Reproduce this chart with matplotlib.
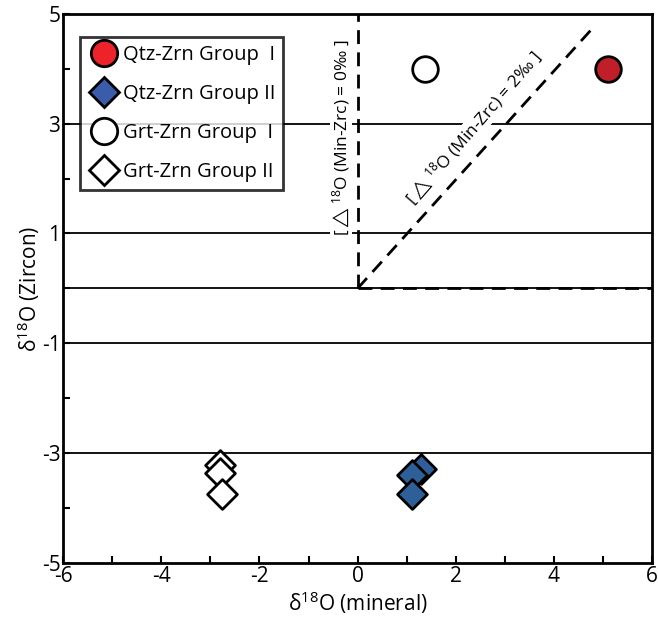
import matplotlib.pyplot as plt
from matplotlib.lines import Line2D

plt.rcParams['font.family'] = ['Open Sans', 'DejaVu Sans']
plt.rcParams['mathtext.fontset'] = 'custom'
plt.rcParams['mathtext.rm'] = 'Open Sans'
plt.rcParams['mathtext.it'] = 'Open Sans'
plt.rcParams['mathtext.fallback'] = 'stixsans'
plt.rcParams['mathtext.default'] = 'regular'
plt.rcParams['axes.unicode_minus'] = False

# data
qtz1_x = [5.1]
qtz1_y = [4.0]
qtz2_x = [1.29, 1.11, 1.11]
qtz2_y = [-3.29, -3.40, -3.74]
grt1_x = [1.38]
grt1_y = [4.0]
grt2_x = [-2.80, -2.80, -2.76]
grt2_y = [-3.21, -3.36, -3.74]

hlines = [3, 1, 0, -1, -3]


def make_plot():
    fig = plt.figure(figsize=(6.58, 6.27), dpi=100)
    ax = fig.add_axes([0.096, 0.102, 0.895, 0.876])

    for h in hlines:
        ax.axhline(h, color='black', lw=1.3, zorder=1)

    # reference lines
    dash = (0, (5, 3))
    ax.plot([0, 0], [0, 5], ls=dash, color='black', lw=2, zorder=2)
    ax.plot([0, 6], [0, 0], ls=dash, color='black', lw=2, zorder=2)
    ax.plot([0, 4.8], [0, 4.75], ls=dash, color='black', lw=2, zorder=2)

    ax.text(-0.33, 2.75, r'[$\triangle^{18}$O (Min-Zrc) = 0‰ ]', rotation=90,
            ha='center', va='center', fontsize=12.5,
            bbox=dict(facecolor='white', edgecolor='none', pad=0), zorder=3)
    ax.text(2.36, 2.92, r'[$\triangle^{18}$O (Min-Zrc) = 2‰ ]', rotation=49,
            ha='center', va='center', fontsize=12.5, rotation_mode='anchor',
            bbox=dict(facecolor='white', edgecolor='none', pad=0), zorder=3)

    ax.scatter(qtz1_x, qtz1_y, s=340, marker='o', facecolor='#c01f2a',
               edgecolor='black', lw=2, zorder=4)
    ax.scatter(grt1_x, grt1_y, s=340, marker='o', facecolor='white',
               edgecolor='black', lw=2, zorder=4)
    ax.scatter(qtz2_x, qtz2_y, s=230, marker='D', facecolor='#2e5f99',
               edgecolor='black', lw=2, zorder=4)
    ax.scatter(grt2_x, grt2_y, s=230, marker='D', facecolor='white',
               edgecolor='black', lw=2, zorder=4)

    handles = [
        Line2D([], [], ls='none', marker='o', ms=19, mfc='#ee2229', mec='black', mew=2),
        Line2D([], [], ls='none', marker='D', ms=15, mfc='#3a5cab', mec='black', mew=2),
        Line2D([], [], ls='none', marker='o', ms=19, mfc='white', mec='black', mew=2),
        Line2D([], [], ls='none', marker='D', ms=15, mfc='white', mec='black', mew=2),
    ]
    labels = ['Qtz-Zrn Group  I', 'Qtz-Zrn Group II', 'Grt-Zrn Group  I', 'Grt-Zrn Group II']
    leg = ax.legend(handles, labels, loc='upper left', bbox_to_anchor=(0.028, 0.958),
                    fontsize=14.5, frameon=True, fancybox=False, edgecolor='black',
                    handletextpad=0.15, labelspacing=0.95, borderpad=0.4,
                    handlelength=1.6, borderaxespad=0)
    leg.get_frame().set_linewidth(2)
    leg.set_zorder(5)

    ax.set_xlim(-6, 6)
    ax.set_ylim(-5, 5)
    ax.set_xticks([-6, -4, -2, 0, 2, 4, 6])
    ax.set_xticks([-5, -3, -1, 1, 3, 5], minor=True)
    ax.set_yticks([-5, -3, -1, 1, 3, 5])
    ax.set_yticks([-4, -2, 0, 2, 4], minor=True)
    ax.tick_params(which='both', direction='in', length=5, width=1.5,
                   labelsize=15, pad=2)
    for s in ax.spines.values():
        s.set_linewidth(2)

    ax.set_xlabel('δ$^{18}$O (mineral)', fontsize=15, labelpad=2)
    ax.set_ylabel('δ$^{18}$O (Zircon)', fontsize=15, labelpad=0)

    fig.savefig('out.png', dpi=100)


if __name__ == '__main__':
    make_plot()
